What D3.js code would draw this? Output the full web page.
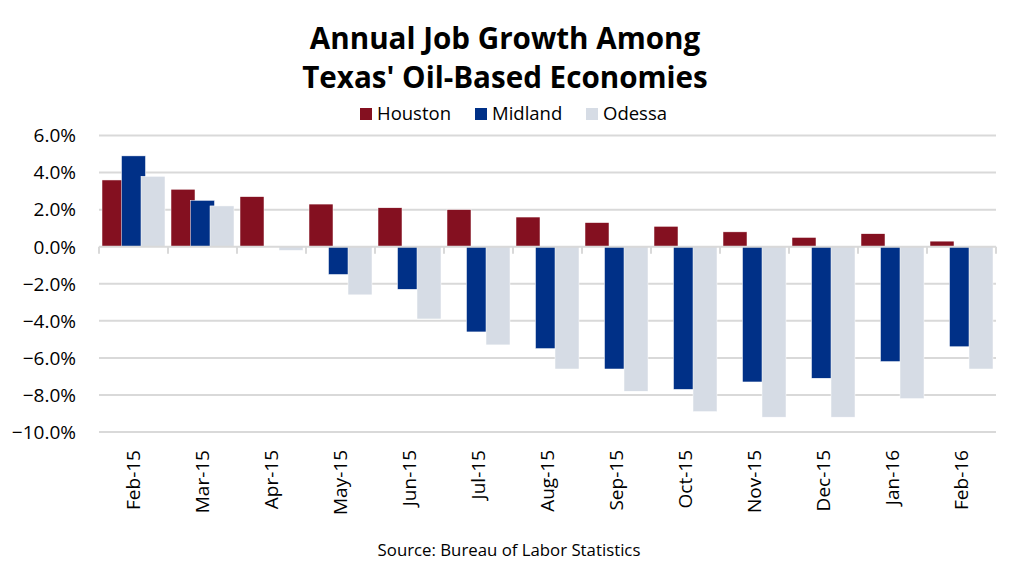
<!DOCTYPE html>
<html>
<head>
<meta charset="utf-8">
<script src="https://cdn.jsdelivr.net/npm/d3@7"></script>
<style>
  body { margin: 0; background: #fff; }
  svg text { font-family: "Open Sans", sans-serif; fill: #000; }
</style>
</head>
<body>
<div id="chart"></div>
<script>
// months along the x axis
const months = ["Feb-15","Mar-15","Apr-15","May-15","Jun-15","Jul-15","Aug-15",
                "Sep-15","Oct-15","Nov-15","Dec-15","Jan-16","Feb-16"];
const seriesNames = ["Houston","Midland","Odessa"];
// annual job growth, percent
const houston = [3.6, 3.1, 2.7, 2.3, 2.1, 2.0, 1.6, 1.3, 1.1, 0.8, 0.5, 0.7, 0.3];
const midland = [4.9, 2.5, 0.0, -1.5, -2.3, -4.6, -5.5, -6.6, -7.7, -7.3, -7.1, -6.2, -5.4];
const odessa  = [3.8, 2.2, -0.2, -2.6, -3.9, -5.3, -6.6, -7.8, -8.9, -9.2, -9.2, -8.2, -6.6];
const yTicks = [6, 4, 2, 0, -2, -4, -6, -8, -10];
const colors = ["#841020", "#003087", "#D6DCE5"];

const W = 1015, H = 582;
const svg = d3.select("#chart").append("svg")
    .attr("width", W)
    .attr("height", H);

// scales
const x = d3.scaleBand().domain(months).range([99, 996]).padding(0);
const y = d3.scaleLinear().domain([-10, 6]).range([432, 135.5]);
// bars overlap a bit, like the excel original
const sub = d3.scalePoint().domain(seriesNames).range([3, 42]);
const barW = 24;

// gridlines
svg.append("g").selectAll("line")
    .data(yTicks.filter(d => d !== 0))
    .join("line")
    .attr("x1", 99).attr("x2", 996)
    .attr("y1", d => y(d)).attr("y2", d => y(d))
    .attr("stroke", "#D9D9D9")
    .attr("stroke-width", 2);

// y labels
svg.append("g").selectAll("text")
    .data(yTicks)
    .join("text")
    .attr("x", 76)
    .attr("y", d => y(d))
    .attr("dy", "0.36em")
    .attr("text-anchor", "end")
    .style("font-size", "19px")
    .text(d => d3.format(".1f")(d) + "%");

// bars, one group per series
const table = seriesNames.map((s, i) => ({
    name: s,
    values: [houston, midland, odessa][i]
}));

table.forEach((s, i) => {
    svg.append("g").selectAll("rect")
        .data(s.values.map((v, j) => ({ m: months[j], v: v })))
        .join("rect")
        .attr("x", d => x(d.m) + sub(s.name))
        .attr("width", barW)
        .attr("y", d => y(Math.max(0, d.v)))
        .attr("height", d => Math.abs(y(d.v) - y(0)))
        .attr("fill", colors[i])
        .attr("stroke", "#fff")
        .attr("stroke-width", 0.5);
});

// zero axis with tick marks between categories
const xAxis = svg.append("g").attr("transform", `translate(0,${y(0)})`);
xAxis.append("line")
    .attr("x1", 99).attr("x2", 996)
    .attr("stroke", "#D9D9D9").attr("stroke-width", 2);
xAxis.selectAll("line.tick")
    .data(months.map(m => x(m)).concat([x.range()[1]]))
    .join("line")
    .attr("class", "tick")
    .attr("x1", d => d).attr("x2", d => d)
    .attr("y1", 0).attr("y2", 7)
    .attr("stroke", "#D9D9D9").attr("stroke-width", 2);

// rotated month labels
svg.append("g").selectAll("text")
    .data(months)
    .join("text")
    .attr("transform", d => `translate(${x(d) + x.bandwidth() / 2},450) rotate(-90)`)
    .attr("text-anchor", "end")
    .attr("dy", "0.36em")
    .style("font-size", "19px")
    .text(d => d);

// title
const title = svg.append("text")
    .attr("x", 505)
    .attr("text-anchor", "middle")
    .style("font-size", "29.6px")
    .style("font-weight", "bold");
title.append("tspan").attr("x", 505).attr("y", 49).text("Annual Job Growth Among");
title.append("tspan").attr("x", 505).attr("y", 88).text("Texas' Oil-Based Economies");

// legend
const legendX = [360, 475, 586];
const legend = svg.append("g").selectAll("g")
    .data(seriesNames)
    .join("g")
    .attr("transform", (d, i) => `translate(${legendX[i]},108)`);
legend.append("rect")
    .attr("width", 12).attr("height", 12)
    .attr("fill", (d, i) => colors[i]);
legend.append("text")
    .attr("x", 17).attr("y", 12)
    .style("font-size", "18.5px")
    .text(d => d);

// source note
svg.append("text")
    .attr("x", 509).attr("y", 556)
    .attr("text-anchor", "middle")
    .style("font-size", "16.8px")
    .text("Source: Bureau of Labor Statistics");
</script>
</body>
</html>
